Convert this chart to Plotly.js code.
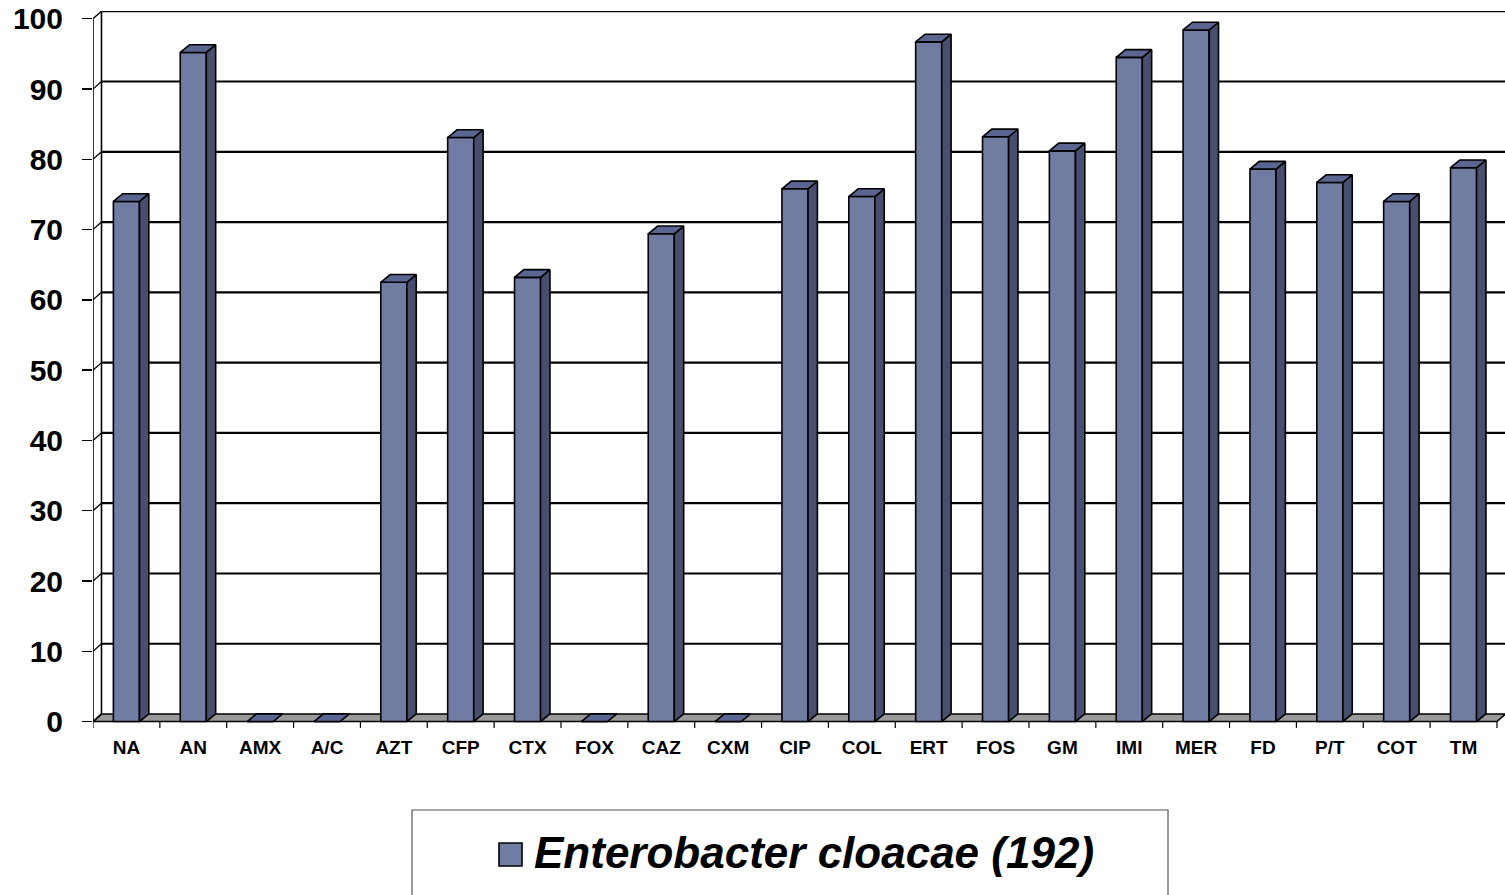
<!DOCTYPE html>
<html>
<head>
<meta charset="utf-8">
<script src="https://cdn.plot.ly/plotly-3.0.1.min.js"></script>
<style>html,body{margin:0;padding:0;background:#fff;}#chart{width:1505px;height:895px;}</style>
</head>
<body>
<div id="chart"></div>
<script>
// ---- data ----
var categories = ['NA','AN','AMX','A/C','AZT','CFP','CTX','FOX','CAZ','CXM','CIP','COL','ERT','FOS','GM','IMI','MER','FD','P/T','COT','TM'];
var values = [74, 95.2, 0, 0, 62.5, 83.1, 63.2, 0, 69.4, 0, 75.8, 74.7, 96.7, 83.2, 81.2, 94.5, 98.4, 78.6, 76.7, 74, 78.8];
var seriesName = 'Enterobacter cloacae (192)';
var yTicks = [0,10,20,30,40,50,60,70,80,90,100];

// ---- styling / 3D geometry (data units) ----
var FRONT = '#717ca3', TOP = '#5a6590', SIDE = '#474e6e', FLOOR = '#9a9a9a';
var barW = 0.39;            // bar width (category units)
var bdx = 0.14, bdy = 1.1;  // bar depth offset
var wdx = 0.127, wdy = 1.07; // wall depth offset
var xMin = -0.5, xMax = 20.62;
var n = categories.length;
var idx = categories.map(function(_, i){ return i; });

// side faces and top faces as polygons built from the values
var sx = [], sy = [], tx = [], ty = [];
values.forEach(function(v, i){
  var l = i - barW/2, r = i + barW/2;
  if (v > 0) {
    sx.push(r, r+bdx, r+bdx, r, r, null);
    sy.push(0, bdy, v+bdy, v, 0, null);
  }
  tx.push(l, r, r+bdx, l+bdx, l, null);
  ty.push(v, v, v+bdy, v+bdy, v, null);
});

var traces = [
  {type:'bar', x: idx, y: values, width: barW, name: seriesName, showlegend:false,
   marker:{color: FRONT, line:{color:'#000', width:1.6}}},
  {type:'scatter', mode:'lines', x: sx, y: sy, fill:'toself', fillcolor: SIDE,
   line:{color:'#000', width:1.6}, hoverinfo:'skip', showlegend:false},
  {type:'scatter', mode:'lines', x: tx, y: ty, fill:'toself', fillcolor: TOP,
   line:{color:'#000', width:1.6}, hoverinfo:'skip', showlegend:false}
];

var shapes = [];
var LW = 2.2;
// floor
shapes.push({type:'path', xref:'x', yref:'y', layer:'below',
  path: 'M'+xMin+',0 L'+(n-0.5)+',0 L'+(n-0.5+wdx)+','+wdy+' L'+(xMax)+','+wdy+' L'+(xMin+wdx)+','+wdy+' Z',
  fillcolor: FLOOR, line:{color:'#000', width:1.6}});
// back wall gridlines + connectors to front ticks
yTicks.forEach(function(v){
  if (v > 0) {
    shapes.push({type:'line', xref:'x', yref:'y', layer:'below',
      x0: xMin+wdx, x1: xMax, y0: v+wdy, y1: v+wdy, line:{color:'#000', width:LW}});
  }
  shapes.push({type:'line', xref:'x', yref:'y', layer:'below',
    x0: xMin, x1: xMin+wdx, y0: v, y1: v+wdy, line:{color:'#000', width:1.3}});
});
// left wall: front and back vertical lines
shapes.push({type:'line', xref:'x', yref:'y', layer:'below', x0:xMin, x1:xMin, y0:0, y1:100, line:{color:'#000', width:1.6}});
shapes.push({type:'line', xref:'x', yref:'y', layer:'below', x0:xMin+wdx, x1:xMin+wdx, y0:wdy, y1:100+wdy, line:{color:'#000', width:1.6}});
// category boundary ticks
for (var k = -1; k < n; k++) {
  shapes.push({type:'line', xref:'x', yref:'y', layer:'above', x0:k+0.5, x1:k+0.5, y0:0, y1:-0.9, line:{color:'#000', width:1.2}});
}
// legend box + swatch
var px = function(p){ return (p-93)/1412; };
var py = function(p){ return (730-p)/719; };
shapes.push({type:'rect', xref:'paper', yref:'paper', x0:px(412), x1:px(1168), y0:py(810), y1:py(905),
  line:{color:'#555', width:1.2}, fillcolor:'rgba(0,0,0,0)'});
shapes.push({type:'rect', xref:'paper', yref:'paper', x0:px(499), x1:px(522), y0:py(843), y1:py(866),
  line:{color:'#000', width:1.6}, fillcolor: FRONT});

var layout = {
  width:1505, height:895,
  margin:{l:93, r:0, t:11, b:165},
  paper_bgcolor:'#fff', plot_bgcolor:'rgba(0,0,0,0)',
  showlegend:false,
  font:{family:'Arial, "Liberation Sans", sans-serif', color:'#000'},
  xaxis:{range:[xMin, xMax], tickmode:'array', tickvals: idx, ticktext: categories,
    showgrid:false, zeroline:false, showline:false, ticks:'', ticklabelstandoff:4,
    tickfont:{size:19, weight:'bold', color:'#000'}},
  yaxis:{range:[-1.2, 101.1], tickmode:'array', tickvals: yTicks, ticktext: yTicks.map(String),
    showgrid:false, zeroline:false, showline:false, ticks:'outside', ticklen:10, tickwidth:1.5, tickcolor:'#000',
    ticklabelstandoff:13, tickfont:{size:30, weight:'bold', color:'#000'}},
  bargap:0.6,
  shapes: shapes,
  annotations:[{xref:'paper', yref:'paper', x:px(532), y:py(852), xanchor:'left', yanchor:'middle', showarrow:false,
    text: seriesName, font:{size:44, weight:'bold', style:'italic', color:'#000'}}]
};

Plotly.newPlot('chart', traces, layout, {displayModeBar:false, staticPlot:true});
</script>
</body>
</html>
